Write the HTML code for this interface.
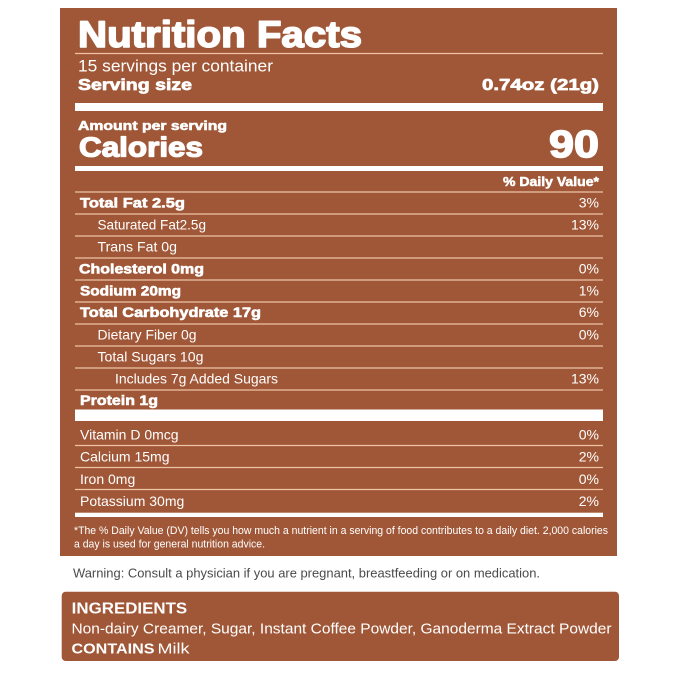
<!DOCTYPE html>
<html>
<head>
<meta charset="utf-8">
<style>
  html,body{margin:0;padding:0;background:#ffffff;}
  svg{display:block;}
  .b{font-family:"Liberation Sans",Arial,sans-serif;font-weight:bold;fill:#ffffff;}
  .r{font-family:"Liberation Sans",Arial,sans-serif;font-weight:normal;fill:#ffffff;}
  .hv{stroke:#ffffff;stroke-linejoin:round;}
</style>
</head>
<body>
<svg width="679" height="679" viewBox="0 0 679 679" xmlns="http://www.w3.org/2000/svg">
  <rect x="0" y="0" width="679" height="679" fill="#ffffff"/>
  <!-- main panel -->
  <rect x="60" y="8" width="557" height="548" fill="#a05737"/>

  <!-- title -->
  <text class="b hv" x="78" y="47" font-size="37" stroke-width="1.6" textLength="284" lengthAdjust="spacingAndGlyphs">Nutrition Facts</text>
  <line x1="75" y1="53.5" x2="603" y2="53.5" stroke="#ecc3a5" stroke-width="1.3"/>

  <text class="r" x="78" y="71.7" font-size="16.3" textLength="195" lengthAdjust="spacingAndGlyphs">15 servings per container</text>
  <text class="b hv" x="78" y="90" font-size="16" stroke-width="0.7" textLength="114" lengthAdjust="spacingAndGlyphs">Serving size</text>
  <text class="b hv" x="482" y="90" font-size="16" stroke-width="0.7" textLength="117" lengthAdjust="spacingAndGlyphs">0.74oz (21g)</text>

  <rect x="75" y="103" width="528" height="8" fill="#ffffff"/>

  <text class="b hv" x="78" y="130" font-size="12.5" stroke-width="0.55" textLength="149" lengthAdjust="spacingAndGlyphs">Amount per serving</text>
  <text class="b hv" x="79" y="156.7" font-size="28" stroke-width="1.3" textLength="124" lengthAdjust="spacingAndGlyphs">Calories</text>
  <text class="b hv" x="549" y="157" font-size="38" stroke-width="1.5" textLength="50" lengthAdjust="spacingAndGlyphs">90</text>

  <rect x="75" y="166" width="528" height="5" fill="#ffffff"/>

  <text class="b hv" x="503" y="186" font-size="12.5" stroke-width="0.5" textLength="96" lengthAdjust="spacingAndGlyphs">% Daily Value*</text>

  <!-- thin lines -->
  <g stroke="#ecc3a5" stroke-width="1.3">
    <line x1="75" y1="192" x2="603" y2="192"/>
    <line x1="75" y1="214" x2="603" y2="214"/>
    <line x1="75" y1="236" x2="603" y2="236"/>
    <line x1="75" y1="258" x2="603" y2="258"/>
    <line x1="75" y1="280" x2="603" y2="280"/>
    <line x1="75" y1="302" x2="603" y2="302"/>
    <line x1="75" y1="324" x2="603" y2="324"/>
    <line x1="75" y1="346" x2="603" y2="346"/>
    <line x1="75" y1="368" x2="603" y2="368"/>
    <line x1="75" y1="390" x2="603" y2="390"/>
    <line x1="75" y1="445.5" x2="603" y2="445.5"/>
    <line x1="75" y1="467.5" x2="603" y2="467.5"/>
    <line x1="75" y1="489.5" x2="603" y2="489.5"/>
  </g>

  <!-- nutrient rows -->
  <text class="b hv" x="80" y="207.5" font-size="14" stroke-width="0.6" textLength="105" lengthAdjust="spacingAndGlyphs">Total Fat 2.5g</text>
  <text class="r" x="599" y="207.5" font-size="14" text-anchor="end">3%</text>

  <text class="r" x="97.5" y="229.5" font-size="14" textLength="108.5" lengthAdjust="spacingAndGlyphs">Saturated Fat2.5g</text>
  <text class="r" x="599" y="229.5" font-size="14" text-anchor="end">13%</text>

  <text class="r" x="97.5" y="251.5" font-size="14" textLength="79.5" lengthAdjust="spacingAndGlyphs">Trans Fat 0g</text>

  <text class="b hv" x="79" y="273.5" font-size="14" stroke-width="0.6" textLength="125" lengthAdjust="spacingAndGlyphs">Cholesterol 0mg</text>
  <text class="r" x="599" y="273.5" font-size="14" text-anchor="end">0%</text>

  <text class="b hv" x="80" y="295.5" font-size="14" stroke-width="0.6" textLength="101" lengthAdjust="spacingAndGlyphs">Sodium 20mg</text>
  <text class="r" x="599" y="295.5" font-size="14" text-anchor="end">1%</text>

  <text class="b hv" x="80" y="317" font-size="14" stroke-width="0.6" textLength="181" lengthAdjust="spacingAndGlyphs">Total Carbohydrate 17g</text>
  <text class="r" x="599" y="317" font-size="14" text-anchor="end">6%</text>

  <text class="r" x="97.5" y="339.5" font-size="14" textLength="99" lengthAdjust="spacingAndGlyphs">Dietary Fiber 0g</text>
  <text class="r" x="599" y="339.5" font-size="14" text-anchor="end">0%</text>

  <text class="r" x="97.5" y="361.5" font-size="14" textLength="106" lengthAdjust="spacingAndGlyphs">Total Sugars 10g</text>

  <text class="r" x="115" y="383.3" font-size="14" textLength="163" lengthAdjust="spacingAndGlyphs">Includes 7g Added Sugars</text>
  <text class="r" x="599" y="383.3" font-size="14" text-anchor="end">13%</text>

  <text class="b hv" x="80" y="405" font-size="14" stroke-width="0.6" textLength="78" lengthAdjust="spacingAndGlyphs">Protein 1g</text>

  <rect x="75" y="409.5" width="528" height="11.5" fill="#ffffff"/>

  <!-- vitamins -->
  <text class="r" x="80" y="439.5" font-size="14">Vitamin D 0mcg</text>
  <text class="r" x="599" y="439.5" font-size="14" text-anchor="end">0%</text>
  <text class="r" x="80" y="461.7" font-size="14">Calcium 15mg</text>
  <text class="r" x="599" y="461.7" font-size="14" text-anchor="end">2%</text>
  <text class="r" x="80" y="484" font-size="14">Iron 0mg</text>
  <text class="r" x="599" y="484" font-size="14" text-anchor="end">0%</text>
  <text class="r" x="80" y="506" font-size="14">Potassium 30mg</text>
  <text class="r" x="599" y="506" font-size="14" text-anchor="end">2%</text>

  <rect x="75" y="512.7" width="528" height="4.3" fill="#ffffff"/>

  <!-- footnote -->
  <text class="r" x="74" y="534" font-size="11" textLength="534" lengthAdjust="spacingAndGlyphs">*The % Daily Value (DV) tells you how much a nutrient in a serving of food contributes to a daily diet. 2,000 calories</text>
  <text class="r" x="74" y="547.5" font-size="11" textLength="191" lengthAdjust="spacingAndGlyphs">a day is used for general nutrition advice.</text>

  <!-- warning -->
  <text x="73" y="577.5" font-family="'Liberation Sans',Arial,sans-serif" font-size="12.5" fill="#4a4a4a" textLength="467" lengthAdjust="spacingAndGlyphs">Warning: Consult a physician if you are pregnant, breastfeeding or on medication.</text>

  <!-- ingredients box -->
  <rect x="61.7" y="591.7" width="557.3" height="69.3" rx="4" ry="4" fill="#a05737"/>
  <text class="b" x="71.7" y="613.3" font-size="16" textLength="115.5" lengthAdjust="spacingAndGlyphs">INGREDIENTS</text>
  <text class="r" x="71.5" y="633.3" font-size="15" textLength="540" lengthAdjust="spacingAndGlyphs">Non-dairy Creamer, Sugar, Instant Coffee Powder, Ganoderma Extract Powder</text>
  <text class="b" x="71.5" y="653.3" font-size="15" textLength="83" lengthAdjust="spacingAndGlyphs">CONTAINS</text>
  <text class="r" x="157.5" y="653.3" font-size="15" textLength="32" lengthAdjust="spacingAndGlyphs">Milk</text>
</svg>
</body>
</html>
